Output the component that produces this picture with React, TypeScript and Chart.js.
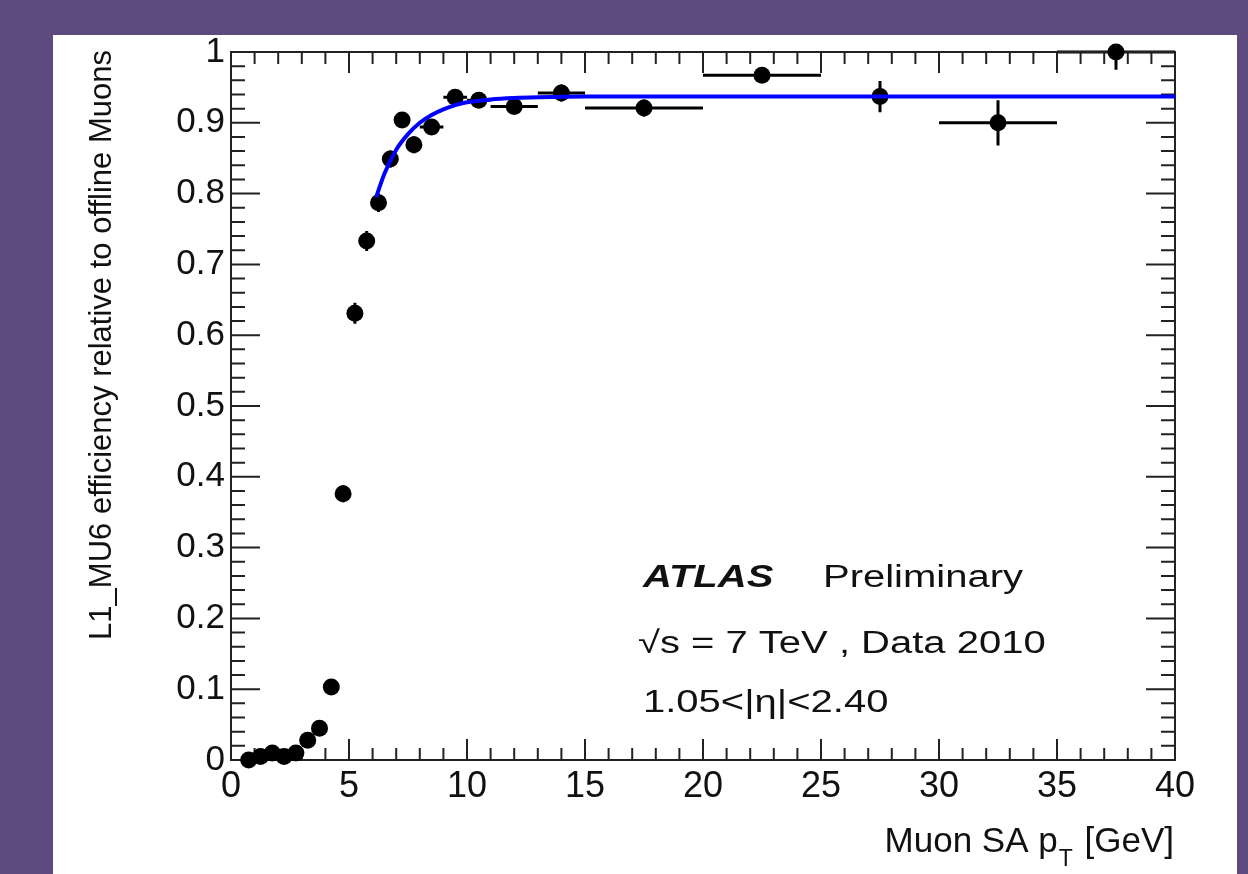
import React, { useEffect, useRef } from "react";
import { Chart, registerables } from "chart.js";

Chart.register(...registerables);

// Muon SA pT bin centres [GeV]
const ptCenters = [0.75, 1.25, 1.75, 2.25, 2.75, 3.25, 3.75, 4.25, 4.75, 5.25, 5.75, 6.25, 6.75, 7.25, 7.75, 8.5, 9.5, 10.5, 12, 14, 17.5, 22.5, 27.5, 32.5, 37.5];
// half bin widths
const ptHalfWidths = [0.25, 0.25, 0.25, 0.25, 0.25, 0.25, 0.25, 0.25, 0.25, 0.25, 0.25, 0.25, 0.25, 0.25, 0.25, 0.5, 0.5, 0.5, 1, 1, 2.5, 2.5, 2.5, 2.5, 2.5];
// efficiency values
const efficiency = [0.0, 0.005, 0.01, 0.005, 0.01, 0.028, 0.045, 0.103, 0.376, 0.631, 0.733, 0.787, 0.849, 0.904, 0.869, 0.894, 0.936, 0.932, 0.923, 0.942, 0.921, 0.967, 0.937, 0.9, 1.0];
const errLow = [0.003, 0.003, 0.003, 0.003, 0.003, 0.005, 0.006, 0.008, 0.012, 0.015, 0.014, 0.013, 0.012, 0.011, 0.012, 0.01, 0.009, 0.009, 0.01, 0.012, 0.012, 0.01, 0.022, 0.032, 0.025];
const errHigh = [0.003, 0.003, 0.003, 0.003, 0.003, 0.005, 0.006, 0.008, 0.012, 0.015, 0.014, 0.013, 0.012, 0.011, 0.012, 0.01, 0.009, 0.009, 0.01, 0.012, 0.012, 0.01, 0.022, 0.032, 0.0];

// fit curve
const fitX = [6.15, 6.5, 7, 7.5, 8, 8.5, 9, 9.5, 10, 11, 12, 13, 15, 20, 30, 40];
const fitY = [0.795, 0.828, 0.862, 0.884, 0.9, 0.911, 0.919, 0.925, 0.929, 0.933, 0.935, 0.936, 0.937, 0.937, 0.937, 0.937];

const xTickStep = 5;
const yTickStep = 0.1;

const yTitle = "L1_MU6 efficiency relative to offline Muons";
const annoLine1a = "ATLAS";
const annoLine1b = "Preliminary";
const annoLine2 = "\u221As = 7 TeV , Data 2010";
const annoLine3 = "1.05<|\u03B7|<2.40";

const FONT = "'Liberation Sans', Arial, Helvetica, sans-serif";

const rootPlugin = {
  id: "rootStyle",
  beforeDatasetsDraw(chart: any) {
    const ctx = chart.ctx;
    const xs = chart.scales.x;
    const ys = chart.scales.y;
    const { left, right, top, bottom } = chart.chartArea;
    ctx.save();
    // error bars
    ctx.strokeStyle = "#000";
    ctx.lineWidth = 3;
    for (let i = 0; i < ptCenters.length; i++) {
      const px = xs.getPixelForValue(ptCenters[i]);
      const py = ys.getPixelForValue(efficiency[i]);
      const x0 = xs.getPixelForValue(ptCenters[i] - ptHalfWidths[i]);
      const x1 = xs.getPixelForValue(ptCenters[i] + ptHalfWidths[i]);
      const yLo = ys.getPixelForValue(efficiency[i] - errLow[i]);
      const yHi = ys.getPixelForValue(efficiency[i] + errHigh[i]);
      ctx.beginPath();
      ctx.moveTo(x0, py);
      ctx.lineTo(x1, py);
      ctx.moveTo(px, yLo);
      ctx.lineTo(px, yHi);
      ctx.stroke();
    }
    // frame
    ctx.strokeStyle = "#222";
    ctx.lineWidth = 2;
    ctx.strokeRect(left, top, right - left, bottom - top);
    ctx.beginPath();
    // x ticks (every 1 GeV, major every 5)
    for (let k = 0; k <= 40; k++) {
      const px = xs.getPixelForValue(k);
      const len = k % 5 === 0 ? 21 : 12;
      ctx.moveTo(px, bottom);
      ctx.lineTo(px, bottom - len);
      ctx.moveTo(px, top);
      ctx.lineTo(px, top + len);
    }
    // y ticks (every 0.02, major every 0.1)
    for (let k = 0; k <= 50; k++) {
      const py = ys.getPixelForValue(k / 50);
      const len = k % 5 === 0 ? 29 : 14;
      ctx.moveTo(left, py);
      ctx.lineTo(left + len, py);
      ctx.moveTo(right, py);
      ctx.lineTo(right - len, py);
    }
    ctx.stroke();
    ctx.restore();
  },
  afterDraw(chart: any) {
    const ctx = chart.ctx;
    const { right } = chart.chartArea;
    ctx.save();
    ctx.fillStyle = "#111";
    // y title
    ctx.save();
    ctx.translate(58, 15);
    ctx.rotate(-Math.PI / 2);
    ctx.font = `31px ${FONT}`;
    ctx.textAlign = "right";
    ctx.textBaseline = "alphabetic";
    ctx.fillText(yTitle, 0, 0);
    ctx.restore();

    // x title: Muon SA p_T [GeV], right aligned
    const big = `35px ${FONT}`;
    const small = `23px ${FONT}`;
    ctx.textBaseline = "alphabetic";
    ctx.textAlign = "left";
    const partA = "Muon SA p";
    const partB = "T";
    const partC = " [GeV]";
    ctx.font = big;
    const wA = ctx.measureText(partA).width;
    const wC = ctx.measureText(partC).width;
    ctx.font = small;
    const wB = ctx.measureText(partB).width;
    const endX = right - 1;
    let sx = endX - (wA + wB + 3 + wC);
    const baseY = 817;
    ctx.font = big;
    ctx.fillText(partA, sx, baseY);
    sx += wA + 1;
    ctx.font = small;
    ctx.fillText(partB, sx, baseY + 14);
    sx += wB + 2;
    ctx.font = big;
    ctx.fillText(partC, sx, baseY);

    // annotations (horizontally stretched like the reference)
    const sX = 1.29;
    const drawStretched = (text: string, x: number, y: number, font: string) => {
      ctx.save();
      ctx.translate(x, y);
      ctx.scale(sX, 1);
      ctx.font = font;
      ctx.fillText(text, 0, 0);
      ctx.restore();
    };
    drawStretched(annoLine1a, 590, 552, `italic bold 31px ${FONT}`);
    drawStretched(annoLine1b, 770, 552, `31px ${FONT}`);
    drawStretched(annoLine2, 585, 618, `31px ${FONT}`);
    drawStretched(annoLine3, 590, 677, `31px ${FONT}`);
    ctx.restore();
  },
};

export default function App() {
  const canvasRef = useRef<HTMLCanvasElement | null>(null);

  useEffect(() => {
    if (!canvasRef.current) return;
    const points = ptCenters.map((x, i) => ({ x, y: efficiency[i] }));
    const fit = fitX.map((x, i) => ({ x, y: fitY[i] }));
    const chart = new Chart(canvasRef.current, {
      type: "scatter",
      data: {
        datasets: [
          {
            label: "fit",
            data: fit,
            showLine: true,
            pointRadius: 0,
            borderColor: "#0000ff",
            borderWidth: 4,
            cubicInterpolationMode: "monotone",
            clip: false,
          } as any,
          {
            label: "data",
            data: points,
            showLine: false,
            pointRadius: 8.5,
            pointBorderWidth: 0,
            backgroundColor: "#000",
            borderColor: "#000",
            clip: false,
          } as any,
        ],
      },
      options: {
        responsive: false,
        animation: false,
        devicePixelRatio: 1,
        layout: { padding: { left: 0, right: 62, top: 17, bottom: 0 } },
        plugins: {
          legend: { display: false },
          tooltip: { enabled: false },
        },
        scales: {
          x: {
            type: "linear",
            min: 0,
            max: 40,
            grid: { display: false, drawTicks: false },
            border: { display: false },
            ticks: {
              stepSize: xTickStep,
              padding: 5,
              color: "#111",
              font: { family: FONT, size: 36 },
              maxRotation: 0,
              autoSkip: false,
            },
            afterFit: (s: any) => {
              s.height = 114;
              s.paddingLeft = 0;
              s.paddingRight = 0;
            },
          },
          y: {
            type: "linear",
            min: 0,
            max: 1,
            grid: { display: false, drawTicks: false },
            border: { display: false },
            ticks: {
              stepSize: yTickStep,
              padding: 6,
              color: "#111",
              font: { family: FONT, size: 35 },
              autoSkip: false,
              callback: (v: any) => {
                const n = Number(v);
                if (Math.abs(n) < 1e-9) return "0";
                if (Math.abs(n - 1) < 1e-9) return "1";
                return n.toFixed(1);
              },
            },
            afterFit: (s: any) => {
              s.width = 178;
              s.paddingTop = 0;
              s.paddingBottom = 0;
            },
          },
        },
      } as any,
      plugins: [rootPlugin],
    });
    return () => chart.destroy();
  }, []);

  return (
    <div
      style={{
        position: "fixed",
        left: 0,
        top: 0,
        width: 1248,
        height: 874,
        background: "#5e4a7d",
        overflow: "hidden",
      }}
    >
      <div
        style={{
          position: "absolute",
          left: 53,
          top: 35,
          width: 1184,
          height: 839,
          background: "#fff",
        }}
      >
        <canvas ref={canvasRef} width={1184} height={839} style={{ display: "block" }} />
      </div>
    </div>
  );
}
